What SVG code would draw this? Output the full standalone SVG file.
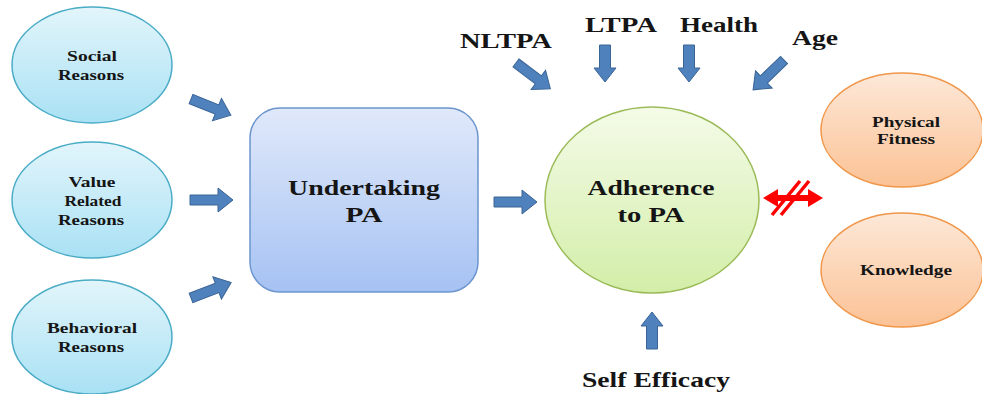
<svg xmlns="http://www.w3.org/2000/svg" xmlns:xlink="http://www.w3.org/1999/xlink" width="982" height="394" viewBox="0 0 982 394">
<style>
text{font-family:'Liberation Serif','Times New Roman','DejaVu Serif',serif;font-weight:700;fill:#151515;text-anchor:middle}
.s{font-size:15px}
.m{font-size:22px}
.arr{fill:#4f81bd;stroke:#3a6496;stroke-width:1}
.cyan{fill:url(#gCyan);stroke:#4bacc6;stroke-width:1.5}
.orange{fill:url(#gOrange);stroke:#f0964a;stroke-width:1.5}
</style>
<defs>
<linearGradient id="gCyan" x1="0" y1="0" x2="0" y2="1"><stop offset="0" stop-color="#e2f5fb"/><stop offset="1" stop-color="#a9e1f4"/></linearGradient>
<linearGradient id="gBlue" x1="0" y1="0" x2="0" y2="1"><stop offset="0" stop-color="#e0e9fa"/><stop offset="1" stop-color="#a6c2f3"/></linearGradient>
<linearGradient id="gGreen" x1="0" y1="0" x2="0" y2="1"><stop offset="0" stop-color="#f4fbe8"/><stop offset="1" stop-color="#d3eea8"/></linearGradient>
<linearGradient id="gOrange" x1="0" y1="0" x2="0" y2="1"><stop offset="0" stop-color="#fde8d8"/><stop offset="1" stop-color="#fbc295"/></linearGradient>
<path id="longArr" class="arr" d="M0,-5 H28 V-12 L43,0 L28,12 V5 H0 Z"/>
<path id="shortArr" class="arr" d="M0,-5.5 H23 V-11 L37,0 L23,11 V5.5 H0 Z"/>
</defs>
<rect width="982" height="394" fill="#ffffff"/>

<g id="social">
<ellipse class="cyan" cx="92" cy="65" rx="80" ry="58"/>
<text class="s" x="92" y="61" textLength="50" lengthAdjust="spacingAndGlyphs">Social</text>
<text class="s" x="91" y="80" textLength="66" lengthAdjust="spacingAndGlyphs">Reasons</text>
</g>
<g id="value">
<ellipse class="cyan" cx="92" cy="200" rx="80" ry="58"/>
<text class="s" x="92" y="187" textLength="47" lengthAdjust="spacingAndGlyphs">Value</text>
<text class="s" x="93" y="206" textLength="57" lengthAdjust="spacingAndGlyphs">Related</text>
<text class="s" x="91" y="225" textLength="66" lengthAdjust="spacingAndGlyphs">Reasons</text>
</g>
<g id="behavioral">
<ellipse class="cyan" cx="92" cy="337" rx="80" ry="57"/>
<text class="s" x="92" y="333" textLength="90" lengthAdjust="spacingAndGlyphs">Behavioral</text>
<text class="s" x="91" y="352" textLength="66" lengthAdjust="spacingAndGlyphs">Reasons</text>
</g>
<g id="undertaking">
<rect x="250" y="108" width="228" height="184" rx="30" ry="30" fill="url(#gBlue)" stroke="#6b95cd" stroke-width="1.5"/>
<text class="m" x="364" y="195" textLength="152" lengthAdjust="spacingAndGlyphs">Undertaking</text>
<text class="m" x="364" y="222" textLength="37" lengthAdjust="spacingAndGlyphs">PA</text>
</g>
<g id="adherence">
<ellipse cx="652" cy="200" rx="107" ry="93" fill="url(#gGreen)" stroke="#9bbb59" stroke-width="1.5"/>
<text class="m" x="651" y="195" textLength="127" lengthAdjust="spacingAndGlyphs">Adherence</text>
<text class="m" x="651" y="222" textLength="67" lengthAdjust="spacingAndGlyphs">to PA</text>
</g>
<g id="fitness">
<ellipse class="orange" cx="902" cy="130" rx="81" ry="57"/>
<text font-size="14" x="906" y="127" textLength="68" lengthAdjust="spacingAndGlyphs">Physical</text>
<text font-size="14" x="906" y="144" textLength="58" lengthAdjust="spacingAndGlyphs">Fitness</text>
</g>
<g id="knowledge">
<ellipse class="orange" cx="902" cy="270" rx="81" ry="57"/>
<text font-size="14" x="906" y="275" textLength="92" lengthAdjust="spacingAndGlyphs">Knowledge</text>
</g>
<g id="nltpa"><text class="m" x="506" y="48" textLength="92" lengthAdjust="spacingAndGlyphs">NLTPA</text></g>
<g id="ltpa"><text class="m" x="621" y="32" textLength="72" lengthAdjust="spacingAndGlyphs">LTPA</text></g>
<g id="health"><text class="m" x="719" y="32" textLength="78" lengthAdjust="spacingAndGlyphs">Health</text></g>
<g id="age"><text class="m" x="815" y="45" textLength="46" lengthAdjust="spacingAndGlyphs">Age</text></g>
<g id="selfefficacy"><text class="m" x="656" y="387" textLength="148" lengthAdjust="spacingAndGlyphs">Self Efficacy</text></g>

<g id="connectors">
<use xlink:href="#longArr" href="#longArr" transform="translate(191,99) rotate(22)"/>
<use xlink:href="#longArr" href="#longArr" transform="translate(190,200)"/>
<use xlink:href="#longArr" href="#longArr" transform="translate(191,298) rotate(-21)"/>
<use xlink:href="#longArr" href="#longArr" transform="translate(494,202)"/>
<use xlink:href="#longArr" href="#longArr" transform="translate(516,63) rotate(37)"/>
<use xlink:href="#shortArr" href="#shortArr" transform="translate(605,45) rotate(90)"/>
<use xlink:href="#shortArr" href="#shortArr" transform="translate(689,45) rotate(90)"/>
<use xlink:href="#longArr" href="#longArr" transform="translate(784,60) rotate(136)"/>
<use xlink:href="#shortArr" href="#shortArr" transform="translate(652,349) rotate(-90)"/>
<g id="notRelated">
<path d="M763,198 L778,189 V195 H808 V189 L823,198 L808,207 V201 H778 V207 Z" fill="#ff0000"/>
<line x1="772" y1="215" x2="800" y2="181" stroke="#ff0000" stroke-width="3.5"/>
<line x1="781" y1="215" x2="809" y2="181" stroke="#ff0000" stroke-width="3.5"/>
</g>
</g>
</svg>
